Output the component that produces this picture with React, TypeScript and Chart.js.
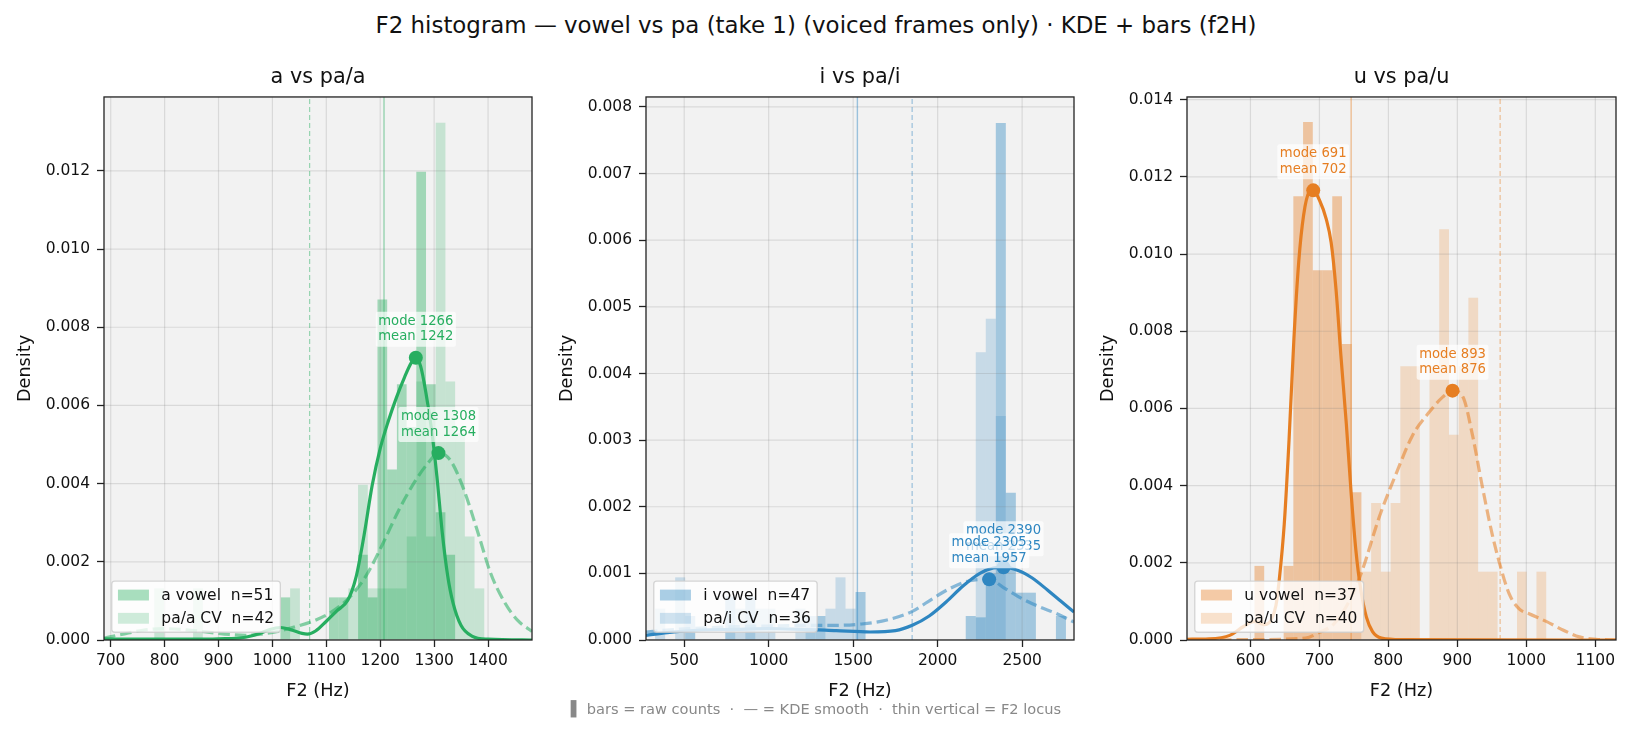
import React, { useEffect, useRef } from "react";
import { Chart, registerables } from "chart.js";

Chart.register(...registerables);

const FONT = "'DejaVu Sans', 'Noto Sans', sans-serif";
Chart.defaults.font.family = FONT;

// ---------------- figure text ----------------
const figureTitle = "F2 histogram — vowel vs pa (take 1) (voiced frames only) · KDE + bars (f2H)";
const footerNote = "▌ bars = raw counts  ·  — = KDE smooth  ·  thin vertical = F2 locus";
const xAxisLabel = "F2 (Hz)";
const yAxisLabel = "Density";

// ---------------- panel a : a vs pa/a ----------------
const aTitle = "a vs pa/a";
const aSeriesLabels = ["a vowel  n=51", "pa/a CV  n=42"];
const aBinStartHz = 780.9;
const aBinWidthHz = 18;
const aVowelDensity = [0, 0, 0, 0, 0, 0, 0, 0, 0, 0, 0, 0, 0, 0.00109, 0, 0, 0, 0, 0.00109, 0.00109, 0, 0.00218, 0.00109, 0.00871, 0.00436, 0.00654, 0.00545, 0.01198, 0.00654, 0.00327, 0.00218, 0, 0, 0];
const aCvDensity = [0.00132, 0, 0, 0, 0.00132, 0, 0, 0, 0, 0, 0, 0, 0, 0, 0.00132, 0, 0, 0, 0, 0, 0.00132, 0.00397, 0.00132, 0.00132, 0.00132, 0.00132, 0.00265, 0.00661, 0.00265, 0.01323, 0.00661, 0.00529, 0.00265, 0.00132];
const aVowelKdeHz = [687.6, 750, 800, 850, 900, 950, 975, 995, 1015, 1035, 1055, 1065, 1080, 1100, 1120, 1140, 1155, 1170, 1185, 1200, 1215, 1230, 1245, 1258, 1266, 1275, 1285, 1295, 1305, 1315, 1325, 1335, 1350, 1370, 1400, 1481.5];
const aVowelKde = [0.00003, 0.00002, 0.00002, 0.00002, 0.00003, 0.00007, 0.00016, 0.00027, 0.00032, 0.00026, 0.00017, 0.00015, 0.00023, 0.00048, 0.00075, 0.00102, 0.0016, 0.00268, 0.00395, 0.0049, 0.0056, 0.0062, 0.00672, 0.0071, 0.00722, 0.007, 0.0063, 0.0054, 0.0042, 0.00275, 0.00165, 0.00095, 0.00037, 0.0001, 0.00002, 0];
const aCvKdeHz = [687.6, 720, 760, 800, 840, 880, 920, 950, 980, 1010, 1040, 1075, 1110, 1145, 1175, 1205, 1235, 1265, 1290, 1308, 1330, 1355, 1380, 1405, 1430, 1455, 1481.5];
const aCvKde = [0.00005, 0.00014, 0.00025, 0.00029, 0.00026, 0.0002, 0.00014, 0.00012, 0.00015, 0.00022, 0.00033, 0.00048, 0.00072, 0.00112, 0.00167, 0.00247, 0.00334, 0.00407, 0.00455, 0.00478, 0.0046, 0.00385, 0.0028, 0.0017, 0.00098, 0.0005, 0.00022];
const aModeHz = [1266, 1308];
const aModeDensity = [0.00722, 0.00478];
const aMeanHz = [1242, 1264];
const aLocusHz = [1207, 1069];
const aXRange = [687.6, 1481.5];
const aYMax = 0.01389;
const aXTicks = [700, 800, 900, 1000, 1100, 1200, 1300, 1400];
const aYTicks = [0, 0.002, 0.004, 0.006, 0.008, 0.01, 0.012];

// ---------------- panel b : i vs pa/i ----------------
const bTitle = "i vs pa/i";
const bSeriesLabels = ["i vowel  n=47", "pa/i CV  n=36"];
const bBinStartHz = 328;
const bBinWidthHz = 59.3;
const bVowelDensity = [0, 0, 0, 0.00036, 0, 0, 0, 0.00065, 0, 0.00065, 0, 0, 0, 0, 0, 0.00036, 0.00036, 0, 0, 0, 0.00072, 0, 0, 0, 0, 0, 0, 0, 0, 0, 0, 0.00036, 0.00034, 0.001, 0.00776, 0.00221, 0.00071, 0.00071, 0, 0, 0.00036, 0];
const bCvDensity = [0.00047, 0, 0.00094, 0, 0, 0, 0, 0, 0.00047, 0, 0.00047, 0.00047, 0, 0, 0.00047, 0, 0, 0.00047, 0.00094, 0.00047, 0, 0, 0, 0, 0, 0, 0, 0, 0, 0, 0, 0, 0.00432, 0.00482, 0.00336, 0, 0, 0, 0, 0, 0, 0];
const bVowelKdeHz = [274, 400, 600, 800, 1000, 1200, 1400, 1600, 1750, 1850, 1950, 2050, 2150, 2250, 2330, 2390, 2480, 2560, 2650, 2730, 2807];
const bVowelKde = [0.00007, 0.00011, 0.00015, 0.00016, 0.00017, 0.00016, 0.00014, 0.00012, 0.00014, 0.00022, 0.00036, 0.00057, 0.00081, 0.001, 0.00108, 0.00109, 0.00104, 0.00093, 0.00075, 0.00058, 0.00042];
const bCvKdeHz = [274, 400, 600, 800, 1000, 1200, 1400, 1550, 1700, 1850, 1970, 2070, 2190, 2305, 2400, 2500, 2600, 2700, 2807];
const bCvKde = [0.00012, 0.00015, 0.00018, 0.0002, 0.00021, 0.00022, 0.00022, 0.00024, 0.0003, 0.00043, 0.00062, 0.00077, 0.00089, 0.00091, 0.00077, 0.00062, 0.0005, 0.0004, 0.00027];
const bModeHz = [2390, 2305];
const bModeDensity = [0.00109, 0.00091];
const bMeanHz = [2335, 1957];
const bLocusHz = [1525, 1849];
const bXRange = [274, 2807];
const bYMax = 0.00815;
const bXTicks = [500, 1000, 1500, 2000, 2500];
const bYTicks = [0, 0.001, 0.002, 0.003, 0.004, 0.005, 0.006, 0.007, 0.008];

// ---------------- panel c : u vs pa/u ----------------
const cTitle = "u vs pa/u";
const cSeriesLabels = ["u vowel  n=37", "pa/u CV  n=40"];
const cBinStartHz = 605.8;
const cBinWidthHz = 14.1;
const cVowelDensity = [0.00192, 0, 0, 0.00192, 0.0115, 0.01342, 0.00958, 0.00958, 0.0115, 0.00767, 0.00383, 0, 0, 0, 0, 0, 0, 0, 0, 0, 0, 0, 0, 0, 0, 0, 0, 0, 0, 0];
const cCvDensity = [0, 0, 0, 0, 0, 0, 0, 0, 0, 0, 0, 0.00177, 0.00355, 0.00177, 0.00355, 0.00709, 0.00709, 0, 0.00709, 0.01064, 0.00532, 0.00709, 0.00887, 0.00177, 0.00177, 0, 0, 0.00177, 0, 0.00177];
const cVowelKdeHz = [508, 540, 570, 590, 606, 620, 630, 637, 642, 649, 656, 663, 670, 677, 685, 691, 700, 710, 717, 724, 731, 739, 746, 753, 760, 768, 777, 790, 820, 1130];
const cVowelKde = [0.00002, 0.00003, 0.00012, 0.00035, 0.00048, 0.0004, 0.00052, 0.0009, 0.0016, 0.003, 0.0052, 0.0078, 0.0098, 0.011, 0.0116, 0.01165, 0.0114, 0.0109, 0.0103, 0.0091, 0.0074, 0.0056, 0.0038, 0.0023, 0.0013, 0.0006, 0.00022, 0.00005, 0.00001, 0];
const cCvKdeHz = [508, 600, 680, 700, 720, 740, 760, 787, 811, 835, 859, 879, 893, 908, 922, 937, 951, 961, 975, 990, 1004, 1028, 1053, 1077, 1101, 1130];
const cCvKde = [0, 0.00001, 0.00005, 0.0002, 0.0004, 0.0009, 0.0017, 0.0032, 0.0043, 0.0053, 0.0059, 0.0063, 0.00646, 0.0063, 0.0053, 0.0039, 0.0027, 0.002, 0.0012, 0.0008, 0.00068, 0.00049, 0.00026, 0.00008, 0.00002, 0];
const cModeHz = [691, 893];
const cModeDensity = [0.01165, 0.00646];
const cMeanHz = [702, 876];
const cLocusHz = [746, 962];
const cXRange = [508, 1130];
const cYMax = 0.01407;
const cXTicks = [600, 700, 800, 900, 1000, 1100];
const cYTicks = [0, 0.002, 0.004, 0.006, 0.008, 0.01, 0.012, 0.014];

// ---------------- assembly ----------------
const panels = [
  { title: aTitle, labels: aSeriesLabels, rgb: "39,174,96", binStart: aBinStartHz, binWidth: aBinWidthHz, vowelDensity: aVowelDensity, cvDensity: aCvDensity, vowelKdeHz: aVowelKdeHz, vowelKde: aVowelKde, cvKdeHz: aCvKdeHz, cvKde: aCvKde, modeHz: aModeHz, modeDensity: aModeDensity, meanHz: aMeanHz, locusHz: aLocusHz, xRange: aXRange, yMax: aYMax, xTicks: aXTicks, yTicks: aYTicks, canvasLeft: 0, canvasW: 539 },
  { title: bTitle, labels: bSeriesLabels, rgb: "46,134,193", binStart: bBinStartHz, binWidth: bBinWidthHz, vowelDensity: bVowelDensity, cvDensity: bCvDensity, vowelKdeHz: bVowelKdeHz, vowelKde: bVowelKde, cvKdeHz: bCvKdeHz, cvKde: bCvKde, modeHz: bModeHz, modeDensity: bModeDensity, meanHz: bMeanHz, locusHz: bLocusHz, xRange: bXRange, yMax: bYMax, xTicks: bXTicks, yTicks: bYTicks, canvasLeft: 542, canvasW: 539 },
  { title: cTitle, labels: cSeriesLabels, rgb: "230,126,34", binStart: cBinStartHz, binWidth: cBinWidthHz, vowelDensity: cVowelDensity, cvDensity: cCvDensity, vowelKdeHz: cVowelKdeHz, vowelKde: cVowelKde, cvKdeHz: cCvKdeHz, cvKde: cCvKde, modeHz: cModeHz, modeDensity: cModeDensity, meanHz: cMeanHz, locusHz: cLocusHz, xRange: cXRange, yMax: cYMax, xTicks: cXTicks, yTicks: cYTicks, canvasLeft: 1083, canvasW: 540 },
];

const CANVAS_TOP = 40;
const CANVAS_H = 662;
const CV_BAR_INDEX = 5;

const zip = (xs: number[], ys: number[]) => xs.map((x, i) => ({ x, y: ys[i] }));

function roundRectPath(ctx: CanvasRenderingContext2D, x: number, y: number, w: number, h: number, r: number) {
  ctx.beginPath();
  ctx.moveTo(x + r, y);
  ctx.arcTo(x + w, y, x + w, y + h, r);
  ctx.arcTo(x + w, y + h, x, y + h, r);
  ctx.arcTo(x, y + h, x, y, r);
  ctx.arcTo(x, y, x + w, y, r);
  ctx.closePath();
}

function makeDecor(p: any) {
  const rgba = (a: number) => `rgba(${p.rgb},${a})`;
  return {
    id: "panelDecor",
    beforeDraw(chart: any) {
      const { ctx, chartArea: a } = chart;
      ctx.save();
      ctx.fillStyle = "#f2f2f2";
      ctx.fillRect(a.left, a.top, a.right - a.left, a.bottom - a.top);
      ctx.restore();
    },
    afterDatasetDraw(chart: any, args: any) {
      if (args.index !== CV_BAR_INDEX) return;
      const { ctx, chartArea: a, scales } = chart;
      ctx.save();
      ctx.beginPath();
      ctx.rect(a.left, a.top, a.right - a.left, a.bottom - a.top);
      ctx.clip();
      ctx.strokeStyle = "rgba(120,120,120,0.2)";
      ctx.lineWidth = 1.2;
      for (const v of p.xTicks) {
        const x = scales.x.getPixelForValue(v);
        ctx.beginPath();
        ctx.moveTo(x, a.top);
        ctx.lineTo(x, a.bottom);
        ctx.stroke();
      }
      for (const v of p.yTicks) {
        const y = scales.y.getPixelForValue(v);
        ctx.beginPath();
        ctx.moveTo(a.left, y);
        ctx.lineTo(a.right, y);
        ctx.stroke();
      }
      ctx.restore();
    },
    afterDatasetsDraw(chart: any) {
      const { ctx, chartArea: a, scales } = chart;
      ctx.save();
      // frame
      ctx.strokeStyle = "#222";
      ctx.lineWidth = 1.3;
      ctx.strokeRect(a.left, a.top, a.right - a.left, a.bottom - a.top);
      // annotations
      ctx.font = `13.2px ${FONT}`;
      for (let i = 0; i < p.modeHz.length; i++) {
        const px = scales.x.getPixelForValue(p.modeHz[i]);
        const py = scales.y.getPixelForValue(p.modeDensity[i]);
        const lines = [`mode ${p.modeHz[i]}`, `mean ${p.meanHz[i]}`];
        const w = Math.max(...lines.map((l) => ctx.measureText(l).width));
        const pad = 2.5;
        ctx.fillStyle = "rgba(255,255,255,0.7)";
        roundRectPath(ctx, px - w / 2 - pad, py - 46, w + 2 * pad, 35, 2);
        ctx.fill();
        ctx.fillStyle = rgba(1);
        ctx.textAlign = "center";
        ctx.textBaseline = "middle";
        ctx.fillText(lines[0], px, py - 36.5);
        ctx.fillText(lines[1], px, py - 21);
      }
      ctx.restore();
    },
    afterDraw(chart: any) {
      const { ctx, chartArea: a } = chart;
      const f = 15.5;
      const pad = 0.4 * f, hl = 2 * f, hh = 0.7 * f, tp = 0.8 * f, ls = 0.5 * f, bap = 0.5 * f;
      ctx.save();
      ctx.font = `${f}px ${FONT}`;
      const tw = Math.max(...p.labels.map((l: string) => ctx.measureText(l).width));
      const h = 2 * pad + 2 * f + ls;
      const w = 2 * pad + hl + tp + tw;
      const left = a.left + bap;
      const top = a.bottom - bap - h;
      roundRectPath(ctx, left, top, w, h, 3);
      ctx.fillStyle = "rgba(255,255,255,0.8)";
      ctx.fill();
      ctx.strokeStyle = "rgba(204,204,204,0.8)";
      ctx.lineWidth = 1.3;
      ctx.stroke();
      const fills = [rgba(0.4), rgba(0.22)];
      for (let i = 0; i < 2; i++) {
        const cy = top + pad + f / 2 + i * (f + ls);
        ctx.fillStyle = fills[i];
        ctx.fillRect(left + pad, cy - hh / 2, hl, hh);
        ctx.fillStyle = "#111";
        ctx.textAlign = "left";
        ctx.textBaseline = "middle";
        ctx.fillText(p.labels[i], left + pad + hl + tp, cy + 0.5);
      }
      ctx.restore();
    },
  };
}

function buildConfig(p: any): any {
  const rgba = (a: number) => `rgba(${p.rgb},${a})`;
  const bars = (ys: number[]) => ys.map((y, i) => ({ x: p.binStart + (i + 0.5) * p.binWidth, y }));
  const barStyle = { type: "bar", grouped: false, barPercentage: 1, categoryPercentage: 1, borderWidth: 0, inflateAmount: 0 };
  const lineStyle = { type: "line", pointRadius: 0, pointHoverRadius: 0, fill: false };
  const tickFont = { size: 15.5, family: FONT };
  const gridCfg = { display: true, drawOnChartArea: false, drawTicks: true, tickLength: 7, tickWidth: 1.3, tickColor: "#222", offset: false };
  return {
    type: "scatter",
    data: {
      datasets: [
        { type: "scatter", label: "modes", data: zip(p.modeHz, p.modeDensity), pointRadius: 7, pointHoverRadius: 7, backgroundColor: rgba(1), pointBackgroundColor: rgba(1), borderWidth: 0, pointBorderWidth: 0, order: 0 },
        { ...lineStyle, label: "vowel KDE", data: zip(p.vowelKdeHz, p.vowelKde), borderColor: rgba(1), borderWidth: 3.2, cubicInterpolationMode: "monotone", order: 1 },
        { ...lineStyle, label: "CV KDE", data: zip(p.cvKdeHz, p.cvKde), borderColor: rgba(0.55), borderWidth: 3.2, borderDash: [11.5, 5], cubicInterpolationMode: "monotone", order: 1 },
        { ...lineStyle, label: "vowel locus", data: [{ x: p.locusHz[0], y: 0 }, { x: p.locusHz[0], y: p.yMax }], borderColor: rgba(0.45), borderWidth: 1.4, order: 2 },
        { ...lineStyle, label: "CV locus", data: [{ x: p.locusHz[1], y: 0 }, { x: p.locusHz[1], y: p.yMax }], borderColor: rgba(0.45), borderWidth: 1.2, borderDash: [5, 3], order: 2 },
        { ...barStyle, label: p.labels[1], data: bars(p.cvDensity), backgroundColor: rgba(0.22), order: 3 },
        { ...barStyle, label: p.labels[0], data: bars(p.vowelDensity), backgroundColor: rgba(0.4), order: 4 },
      ],
    },
    options: {
      responsive: false,
      maintainAspectRatio: false,
      animation: false,
      devicePixelRatio: 1,
      events: [],
      layout: { padding: { left: 0, right: 6, top: 0, bottom: 0 } },
      plugins: {
        legend: { display: false },
        tooltip: { enabled: false },
        title: { display: true, text: p.title, fullSize: false, color: "#111", font: { size: 20.8, family: FONT, weight: "normal" }, padding: { top: 25.5, bottom: 6.5 } },
      },
      scales: {
        x: {
          type: "linear", min: p.xRange[0], max: p.xRange[1], bounds: "data", offset: false,
          afterBuildTicks: (s: any) => { s.ticks = p.xTicks.map((v: number) => ({ value: v })); },
          afterFit: (s: any) => { s.height = 62; },
          ticks: { autoSkip: false, maxRotation: 0, minRotation: 0, padding: 5, color: "#111", font: tickFont, callback: (v: any) => String(v) },
          grid: gridCfg,
          border: { display: false },
          title: { display: true, text: xAxisLabel, color: "#111", font: { size: 17.7, family: FONT }, padding: { top: 0, bottom: 0 } },
        },
        y: {
          type: "linear", min: 0, max: p.yMax, bounds: "data",
          afterBuildTicks: (s: any) => { s.ticks = p.yTicks.map((v: number) => ({ value: v })); },
          afterFit: (s: any) => { s.width = 104; },
          ticks: { autoSkip: false, padding: 7, color: "#111", font: tickFont, callback: (v: any) => Number(v).toFixed(3) },
          grid: gridCfg,
          border: { display: false },
          title: { display: true, text: yAxisLabel, color: "#111", font: { size: 17.7, family: FONT }, padding: { top: 14.4, bottom: 0 } },
        },
      },
    },
    plugins: [makeDecor(p)],
  };
}

function PanelChart({ panel }: { panel: any }) {
  const ref = useRef<HTMLCanvasElement>(null);
  useEffect(() => {
    const chart = new Chart(ref.current as HTMLCanvasElement, buildConfig(panel));
    return () => chart.destroy();
  }, [panel]);
  return (
    <canvas
      ref={ref}
      width={panel.canvasW}
      height={CANVAS_H}
      style={{ position: "absolute", left: panel.canvasLeft, top: CANVAS_TOP, width: panel.canvasW, height: CANVAS_H }}
    />
  );
}

export default function App() {
  return (
    <div style={{ position: "fixed", left: 0, top: 0, width: 1632, height: 732, background: "#fff", overflow: "hidden", fontFamily: FONT }}>
      <div style={{ position: "absolute", left: 0, top: 11, width: 1632, textAlign: "center", fontSize: 22.9, lineHeight: "28px", color: "#111", whiteSpace: "pre" }}>
        {figureTitle}
      </div>
      {panels.map((p, i) => (
        <PanelChart key={i} panel={p} />
      ))}
      <div style={{ position: "absolute", left: 0, top: 700, width: 1632, textAlign: "center", fontSize: 14.6, lineHeight: "18px", color: "#888", whiteSpace: "pre" }}>
        {footerNote}
      </div>
    </div>
  );
}
